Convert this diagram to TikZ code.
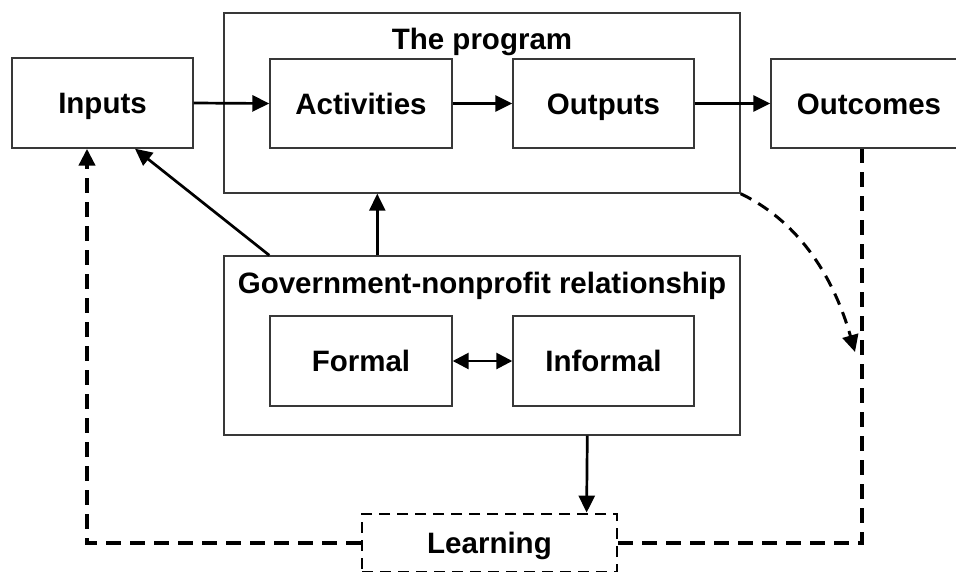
\documentclass[tikz,border=0pt]{standalone}
\usepackage{fontspec}
\setmainfont{Liberation Sans}
\usetikzlibrary{arrows.meta}
\begin{document}
\begin{tikzpicture}[x=1pt,y=-1pt,
  label font/.style={font=\fontsize{29.5}{32}\selectfont\bfseries, text height=21.2pt, text depth=0pt},
  box/.style={draw=black!78, line width=1.4pt, minimum width=182pt, minimum height=89pt,
    inner sep=0pt, label font},
  frame/.style={draw=black!78, line width=1.4pt, minimum width=516pt, minimum height=180pt, inner sep=0pt},
  title/.style={label font, inner sep=0pt},
  tip/.style={-{Triangle[length=17pt,width=16pt]}},
  arr/.style={line width=2.7pt, tip},
  biarr/.style={line width=2.7pt, arrows={Triangle[length=16pt,width=16pt]-Triangle[length=16pt,width=16pt]}},
  loopline/.style={line width=4.2pt, dash pattern=on 15pt off 9pt},
  curvearr/.style={line width=3pt, dash pattern=on 12pt off 8pt, tip},
  learnbox/.style={draw=black, line width=2.8pt, dash pattern=on 11pt off 7pt, minimum width=255pt,
    minimum height=58pt, inner sep=0pt, label font}]
\useasboundingbox (0,0) rectangle (956,571);
\clip (0,0) rectangle (956,571);

% program frame and its contents
\node[frame] (prog) at (482,103) {};
\node[title] (progtitle) at (482,39) {The program};
\node[box, minimum width=181pt, minimum height=90pt] (inputs) at (102.5,103) {Inputs};
\node[box] (act) at (361,103.5) {Activities};
\node[box, minimum width=181pt] (outp) at (603.5,103.5) {Outputs};
\node[box, minimum width=196pt] (outc) at (869,103.5) {Outcomes};

% government-nonprofit relationship frame
\node[frame, minimum height=179pt] (gov) at (482,345.5) {};
\node[title] (govtitle) at (482,283) {Government-nonprofit relationship};
\node[box, minimum height=90pt] (formal) at (361,361) {Formal};
\node[box, minimum width=181pt, minimum height=90pt] (informal) at (603.5,361) {Informal};

% learning
\node[learnbox] (learn) at (489.5,543) {Learning};

% main flow
\draw[arr] (inputs.east) -- (act.west);
\draw[arr] (act.east) -- (outp.west);
\draw[arr] (outp.east) -- (outc.west);
\draw[biarr] (formal.east) -- (informal.west);

% influence of the relationship
\draw[arr] ([xshift=154pt]gov.north west) -- ([xshift=154pt]prog.south west);
\draw[arr] ([xshift=46pt]gov.north west) -- ([xshift=32.5pt]inputs.south);
\draw[arr] ([xshift=364pt]gov.south west) -- ([xshift=226pt]learn.north west);

% feedback loops
\draw[loopline, tip] (learn.west) -| ([xshift=-15.5pt]inputs.south);
\draw[loopline] (learn.east) -| ([xshift=-7pt]outc.south);
\coordinate (curveend) at (855,352);
\draw[curvearr] (prog.south east) .. controls +(62,30) and +(-20,-70) .. (curveend);
\end{tikzpicture}
\end{document}
